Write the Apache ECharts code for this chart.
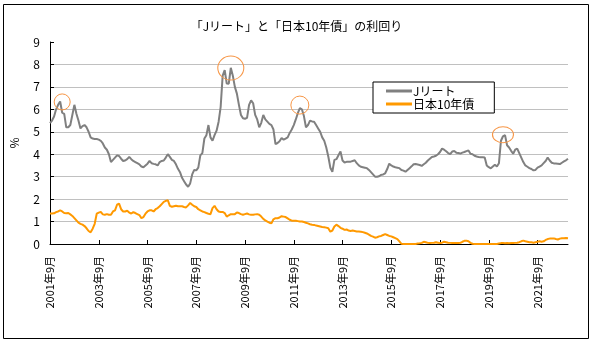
<!DOCTYPE html>
<html><head><meta charset="utf-8">
<script src="https://cdn.jsdelivr.net/npm/echarts@6/dist/echarts.min.js"></script>
<style>html,body{margin:0;padding:0;background:#fff}#c{width:593px;height:343px}</style>
</head><body><div id="c"></div>
<script>
// Monthly categories from 2001-09 to 2022-12
const startYear = 2001, startMonth = 9, monthCount = 256;
const categories = [];
for (let i = 0; i < monthCount; i++) {
  const t = startMonth - 1 + i;
  categories.push((startYear + Math.floor(t / 12)) + '年' + (t % 12 + 1) + '月');
}
const seriesNames = ['Jリート', '日本10年債'];
// J-REIT yield (%), monthly
const jreit = [
  5.39, 5.5, 5.68, 6.0,
  6.2, 6.35, 5.85, 5.8, 5.2, 5.2, 5.3, 5.75, 6.2, 5.8, 5.5, 5.15,
  5.25, 5.3, 5.2, 5.0, 4.75, 4.7, 4.68, 4.68, 4.65, 4.6, 4.48, 4.3,
  4.2, 4.0, 3.65, 3.75, 3.85, 3.95, 3.92, 3.8, 3.7, 3.72, 3.78, 3.88,
  3.78, 3.7, 3.65, 3.6, 3.55, 3.45, 3.42, 3.5, 3.58, 3.7, 3.6, 3.57,
  3.55, 3.5, 3.65, 3.7, 3.72, 3.85, 4.0, 3.88, 3.75, 3.7, 3.55, 3.35,
  3.2, 2.95, 2.8, 2.65, 2.55, 2.7, 3.1, 3.3, 3.28, 3.4, 3.95, 4.05,
  4.7, 4.85, 5.3, 4.75, 4.6, 4.85, 5.05, 5.45, 6.1, 7.5, 7.75, 7.15,
  7.14, 7.85, 7.5, 7.0, 6.7, 6.2, 5.75, 5.6, 5.58, 5.62, 6.2, 6.4,
  6.27, 5.75, 5.55, 5.2, 5.4, 5.75, 5.55, 5.45, 5.35, 5.3, 5.1, 4.45,
  4.5, 4.58, 4.72, 4.65, 4.7, 4.75, 4.95, 5.1, 5.3, 5.55, 5.83, 6.05,
  6.0, 5.7, 5.2, 5.3, 5.5, 5.46, 5.45, 5.3, 5.15, 5.0, 4.75, 4.6,
  4.3, 3.9, 3.4, 3.22, 3.75, 3.78, 3.95, 4.12, 3.72, 3.63, 3.66, 3.67,
  3.67, 3.7, 3.73, 3.6, 3.5, 3.44, 3.42, 3.4, 3.38, 3.3, 3.2, 3.1,
  3.0, 3.0, 3.02, 3.08, 3.1, 3.15, 3.34, 3.58, 3.5, 3.45, 3.42, 3.4,
  3.38, 3.3, 3.27, 3.22, 3.3, 3.38, 3.46, 3.55, 3.56, 3.54, 3.52, 3.48,
  3.55, 3.62, 3.72, 3.8, 3.88, 3.9, 3.93, 4.0, 4.1, 4.25, 4.2, 4.13,
  4.05, 4.0, 4.12, 4.14, 4.07, 4.05, 4.03, 4.07, 4.1, 4.14, 4.17, 4.02,
  4.0, 3.93, 3.9, 3.88, 3.87, 3.86, 3.85, 3.5, 3.42, 3.37, 3.45, 3.53,
  3.45, 3.6, 4.6, 4.8, 4.85, 4.4, 4.3, 4.15, 4.02, 4.2, 4.25, 4.05,
  3.85, 3.65, 3.5, 3.44, 3.38, 3.34, 3.28, 3.3, 3.4, 3.45, 3.5, 3.6,
  3.7, 3.85, 3.72, 3.62, 3.59, 3.59, 3.58, 3.56, 3.62, 3.68, 3.73, 3.8
];
// Japan 10-year government bond yield (%), monthly
const jgb10 = [
  1.36, 1.36, 1.37, 1.42,
  1.45, 1.5, 1.45, 1.38, 1.37, 1.38, 1.32, 1.25, 1.15, 1.05, 0.95, 0.9,
  0.86, 0.8, 0.7, 0.58, 0.52, 0.68, 0.9, 1.35, 1.4, 1.43, 1.32, 1.3,
  1.33, 1.3, 1.3, 1.45, 1.5, 1.75, 1.8, 1.55, 1.45, 1.45, 1.48, 1.4,
  1.36, 1.42, 1.38, 1.33, 1.29, 1.15, 1.2, 1.35, 1.45, 1.5, 1.5, 1.45,
  1.55, 1.6, 1.68, 1.78, 1.88, 1.92, 1.95, 1.7, 1.66, 1.68, 1.7, 1.68,
  1.68, 1.68, 1.65, 1.63, 1.72, 1.83, 1.75, 1.68, 1.65, 1.55, 1.5, 1.45,
  1.42, 1.38, 1.35, 1.33, 1.6, 1.7, 1.55, 1.45, 1.43, 1.43, 1.38, 1.22,
  1.28, 1.33, 1.33, 1.33, 1.4, 1.38, 1.33, 1.3, 1.33, 1.36, 1.32, 1.3,
  1.3, 1.32, 1.33, 1.3, 1.22, 1.12, 1.05, 1.0, 0.95, 0.92, 1.1, 1.15,
  1.15, 1.18, 1.24, 1.22, 1.2, 1.14, 1.08, 1.04, 1.04, 1.04, 1.02, 1.0,
  1.0, 0.98, 0.95, 0.92, 0.88, 0.86, 0.85, 0.82, 0.8, 0.78, 0.76, 0.75,
  0.73, 0.7, 0.55, 0.6, 0.78, 0.86, 0.8, 0.72, 0.68, 0.63, 0.65, 0.6,
  0.58, 0.6, 0.58, 0.56, 0.56, 0.55, 0.53, 0.5, 0.47, 0.42, 0.36, 0.33,
  0.28, 0.3, 0.34, 0.36, 0.4, 0.44, 0.4, 0.36, 0.34, 0.3, 0.26, 0.22,
  0.12, 0.01, 0.0, 0.0, 0.0, 0.0, 0.0, 0.0, 0.0, 0.02, 0.03, 0.05,
  0.1, 0.08, 0.05, 0.04, 0.05, 0.06, 0.08, 0.06, 0.04, 0.06, 0.1, 0.08,
  0.06, 0.05, 0.04, 0.04, 0.04, 0.04, 0.05, 0.1, 0.14, 0.15, 0.12, 0.05,
  0.01, 0.0, 0.0, 0.0, 0.0, 0.0, 0.0, 0.0, 0.0, 0.0, 0.0, 0.0,
  0.0, 0.02, 0.04, 0.04, 0.03, 0.04, 0.03, 0.04, 0.04, 0.05, 0.06, 0.08,
  0.12, 0.15, 0.12, 0.1, 0.08, 0.08, 0.06, 0.08, 0.1, 0.12, 0.1, 0.12,
  0.18, 0.22, 0.24, 0.25, 0.25, 0.22, 0.2, 0.24, 0.26, 0.26, 0.27, 0.26
];
// Highlighted peaks (category, value, ellipse size)
const peakCats = ['2002年3月', '2009年2月', '2011年12月', '2020年4月'];
const peakVals = [6.33, 7.84, 6.19, 4.87];
const peakSizes = [[16, 16], [26, 24], [18, 18], [21, 16]];
const yTicks = [0, 1, 2, 3, 4, 5, 6, 7, 8, 9];

const FONT = '"Noto Sans CJK JP", "Liberation Sans", sans-serif';
const chart = echarts.init(document.getElementById('c'));
const gridColors = yTicks.map((v, i) => i === yTicks.length - 1 ? 'rgba(0,0,0,0)' : '#c0c0c0');
chart.setOption({
  animation: false,
  backgroundColor: '#fff',
  textStyle: { fontFamily: FONT, color: '#000' },
  title: {
    text: '「Jリート」と「日本10年債」の利回り',
    left: 'center', top: 15,
    textStyle: { fontFamily: FONT, fontSize: 12, fontWeight: 'normal', color: '#000' }
  },
  graphic: [{
    type: 'rect', shape: { x: 3.5, y: 4.5, width: 585, height: 334 },
    style: { fill: 'none', stroke: '#000', lineWidth: 1 }, silent: true, z: 100
  }],
  legend: {
    data: seriesNames,
    orient: 'vertical',
    left: 373, top: 82,
    backgroundColor: '#fff',
    borderColor: '#000', borderWidth: 1,
    padding: [3, 20, 3, 13],
    itemGap: 1,
    itemWidth: 26, itemHeight: 3,
    icon: 'rect',
    textStyle: { fontFamily: FONT, fontSize: 12, color: '#000', padding: [0, 0, 0, -4] }
  },
  grid: { left: 50, right: 25, top: 42, bottom: 99 },
  xAxis: {
    type: 'category',
    data: categories,
    boundaryGap: false,
    axisLine: { lineStyle: { color: '#000', width: 1 } },
    axisTick: { inside: true, length: 4, interval: 23, lineStyle: { color: '#000' } },
    axisLabel: { interval: 23, rotate: 90, margin: 12, fontFamily: FONT, fontSize: 11, color: '#000' },
    splitLine: { show: false }
  },
  yAxis: {
    type: 'value',
    min: 0, max: 9, interval: 1,
    name: '%',
    nameLocation: 'middle',
    nameGap: 30,
    nameRotate: 90,
    nameTextStyle: { fontFamily: FONT, fontSize: 12, color: '#000' },
    axisLine: { show: true, lineStyle: { color: '#000', width: 1 } },
    axisTick: { show: true, inside: true, length: 4, lineStyle: { color: '#000' } },
    axisLabel: { margin: 10, fontFamily: FONT, fontSize: 12, color: '#000' },
    splitLine: { show: true, lineStyle: { color: gridColors, width: 1 } }
  },
  series: [
    {
      name: seriesNames[0], type: 'line', data: jreit, symbol: 'none',
      lineStyle: { color: '#808080', width: 2 }, itemStyle: { color: '#808080' },
      z: 3,
      markPoint: {
        silent: true,
        label: { show: false },
        itemStyle: { color: 'rgba(0,0,0,0)', borderColor: '#f79646', borderWidth: 1 },
        data: peakCats.map((c, i) => ({ coord: [c, peakVals[i]], symbol: 'circle', symbolSize: peakSizes[i] }))
      }
    },
    {
      name: seriesNames[1], type: 'line', data: jgb10, symbol: 'none',
      lineStyle: { color: '#ff9900', width: 2 }, itemStyle: { color: '#ff9900' },
      z: 2
    }
  ]
});
</script></body></html>
